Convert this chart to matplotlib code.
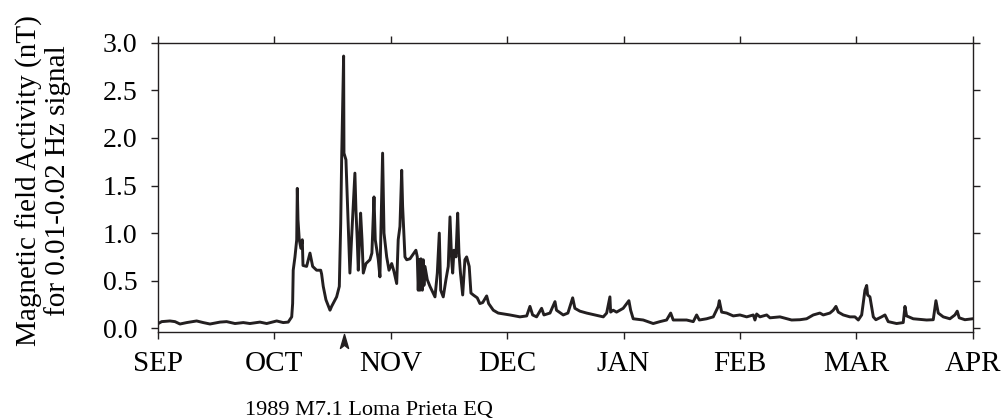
import matplotlib
matplotlib.use("Agg")
import matplotlib.pyplot as plt
import matplotlib.transforms as mtransforms
from matplotlib.path import Path

plt.rcParams['font.family'] = ['Liberation Serif', 'DejaVu Serif']

# x: months since 1 Sep 1989 (equal-width months), y: activity in nT
months = [
    0.003, 0.032, 0.103, 0.146, 0.189, 0.247, 0.332, 0.389, 0.447, 0.533,
    0.590, 0.662, 0.733, 0.790, 0.876, 0.934, 1.020, 1.076, 1.119, 1.149,
    1.157, 1.162, 1.177, 1.192, 1.197, 1.203, 1.214, 1.228, 1.240, 1.246,
    1.277, 1.306, 1.329, 1.363, 1.398, 1.406, 1.420, 1.443, 1.478, 1.492,
    1.535, 1.558, 1.570, 1.578, 1.587, 1.595, 1.598, 1.615, 1.626, 1.638,
    1.649, 1.664, 1.692, 1.701, 1.712, 1.721, 1.741, 1.753, 1.764, 1.787,
    1.821, 1.838, 1.856, 1.867, 1.893, 1.907, 1.930, 1.942, 1.965, 1.985,
    2.008, 2.027, 2.051, 2.064, 2.079, 2.094, 2.102, 2.122, 2.137, 2.165,
    2.216, 2.228, 2.236, 2.244, 2.251, 2.259, 2.271, 2.279, 2.285, 2.294,
    2.314, 2.337, 2.380, 2.400, 2.417, 2.429, 2.451, 2.474, 2.494, 2.509,
    2.523, 2.532, 2.543, 2.560, 2.575, 2.586, 2.599, 2.618, 2.637, 2.652,
    2.674, 2.689, 2.709, 2.743, 2.766, 2.790, 2.824, 2.841, 2.881, 2.923,
    3.024, 3.110, 3.168, 3.196, 3.219, 3.253, 3.296, 3.316, 3.368, 3.411,
    3.424, 3.482, 3.522, 3.563, 3.582, 3.625, 3.683, 3.826, 3.855, 3.883,
    3.889, 3.911, 3.940, 3.997, 4.046, 4.061, 4.083, 4.169, 4.255, 4.313,
    4.370, 4.405, 4.427, 4.542, 4.599, 4.628, 4.651, 4.714, 4.771, 4.814,
    4.823, 4.843, 4.886, 4.943, 5.000, 5.058, 5.115, 5.129, 5.144, 5.172,
    5.230, 5.258, 5.344, 5.444, 5.515, 5.573, 5.630, 5.687, 5.716, 5.773,
    5.802, 5.825, 5.845, 5.888, 5.945, 5.988, 6.017, 6.046, 6.074, 6.089,
    6.097, 6.117, 6.146, 6.168, 6.217, 6.246, 6.274, 6.346, 6.403, 6.418,
    6.432, 6.489, 6.604, 6.661, 6.684, 6.704, 6.747, 6.804, 6.847, 6.867,
    6.884, 6.933, 7.000,
]
activity = [
    0.05, 0.07, 0.077, 0.07, 0.045, 0.06, 0.077, 0.06, 0.045, 0.065,
    0.07, 0.05, 0.06, 0.05, 0.065, 0.05, 0.077, 0.06, 0.065, 0.12,
    0.26, 0.61, 0.75, 0.93, 1.47, 1.14, 0.93, 0.84, 0.93, 0.66,
    0.65, 0.79, 0.65, 0.61, 0.61, 0.57, 0.44, 0.30, 0.19, 0.23,
    0.33, 0.44, 1.10, 1.77, 2.33, 2.86, 1.84, 1.77, 1.38, 0.93,
    0.58, 0.96, 1.63, 1.24, 0.93, 0.61, 1.21, 0.93, 0.58, 0.68,
    0.72, 0.79, 1.38, 0.93, 0.72, 0.54, 1.84, 1.00, 0.75, 0.61,
    0.68, 0.60, 0.47, 0.93, 1.07, 1.66, 1.28, 0.75, 0.72, 0.73,
    0.82, 0.75, 0.40, 0.72, 0.40, 0.73, 0.40, 0.72, 0.45, 0.65,
    0.51, 0.44, 0.33, 0.58, 1.00, 0.40, 0.33, 0.51, 0.65, 1.17,
    0.72, 0.58, 0.82, 0.75, 1.21, 0.79, 0.58, 0.35, 0.72, 0.75,
    0.65, 0.37, 0.35, 0.32, 0.26, 0.27, 0.34, 0.26, 0.19, 0.16,
    0.14, 0.12, 0.13, 0.23, 0.14, 0.12, 0.21, 0.14, 0.16, 0.28,
    0.19, 0.14, 0.16, 0.32, 0.21, 0.18, 0.16, 0.12, 0.16, 0.33,
    0.17, 0.19, 0.17, 0.21, 0.29, 0.19, 0.10, 0.087, 0.05, 0.07,
    0.087, 0.16, 0.087, 0.087, 0.07, 0.14, 0.087, 0.10, 0.12, 0.23,
    0.29, 0.17, 0.16, 0.13, 0.14, 0.12, 0.14, 0.087, 0.15, 0.12,
    0.14, 0.11, 0.12, 0.087, 0.09, 0.10, 0.14, 0.16, 0.14, 0.16,
    0.19, 0.23, 0.17, 0.14, 0.12, 0.12, 0.087, 0.14, 0.40, 0.45,
    0.35, 0.33, 0.12, 0.09, 0.12, 0.14, 0.07, 0.05, 0.06, 0.23,
    0.13, 0.10, 0.087, 0.09, 0.29, 0.16, 0.12, 0.10, 0.14, 0.18,
    0.11, 0.09, 0.10,
]
month_labels = ["SEP", "OCT", "NOV", "DEC", "JAN", "FEB", "MAR", "APR"]
y_ticks = [0.0, 0.5, 1.0, 1.5, 2.0, 2.5, 3.0]
eq_month = 1.6
eq_label = "1989 M7.1 Loma Prieta EQ"
y_label = "Magnetic field Activity (nT)\nfor 0.01-0.02 Hz signal"

ink = "#231f20"
fig = plt.figure(figsize=(10.03, 4.2), dpi=100)
ax = fig.add_axes([0.1575, 0.2102, 0.9698 - 0.1575, 0.8983 - 0.2102])

ax.plot(months, activity, color=ink, lw=2.1, solid_joinstyle='round')

ax.set_xlim(0, len(month_labels) - 1)
ax.set_ylim(-0.036, 3.0)
ax.set_xticks(range(len(month_labels)))
ax.set_xticklabels(month_labels)
ax.set_yticks(y_ticks)
ax.set_yticklabels([f"{v:.1f}" for v in y_ticks])

for s in ax.spines.values():
    s.set_linewidth(1.0)
    s.set_color(ink)

ax.tick_params(axis='x', which='both', direction='out', length=5, width=1.0,
               top=True, labeltop=False, labelsize=21, pad=9, colors=ink)
ax.tick_params(axis='y', which='both', direction='out', length=5, width=1.0,
               right=True, labelright=False, labelsize=20, pad=10, colors=ink)
for lab in ax.get_xticklabels() + ax.get_yticklabels():
    lab.set_color('black')

# earthquake marker below the axis
stealth = Path([(0, 1.0), (-0.45, -0.55), (0, -0.2), (0.45, -0.55), (0, 1.0)],
               [Path.MOVETO, Path.LINETO, Path.LINETO, Path.LINETO, Path.CLOSEPOLY])
trans = mtransforms.blended_transform_factory(ax.transData, ax.transAxes)
ax.plot([eq_month], [-0.04], marker=stealth, markersize=13, color=ink,
        transform=trans, clip_on=False, linestyle='none')

fig.text(0.368, 0.0119, eq_label, ha='center', va='baseline', fontsize=16)
fig.text(0.043, 0.571, y_label, rotation=90, ha='center', va='center',
         fontsize=21, linespacing=1.05, multialignment='center')

fig.savefig("out.png", dpi=100)
